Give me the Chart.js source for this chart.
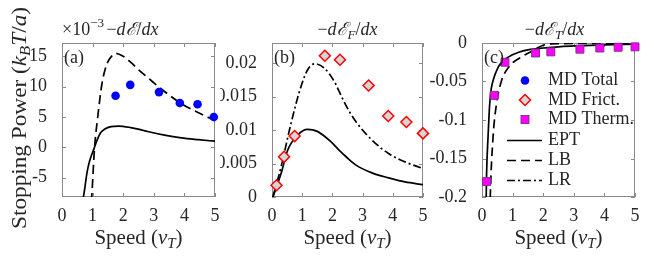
<!DOCTYPE html>
<html><head><meta charset="utf-8">
<script src="https://cdn.jsdelivr.net/npm/chart.js@4/dist/chart.umd.min.js"></script>
<style>
html,body{margin:0;padding:0;background:#fff}
body{width:654px;height:256px;position:relative;overflow:hidden}
canvas{position:absolute;top:0}
</style></head>
<body>
<canvas id="ca" width="220" height="256" style="left:0px"></canvas>
<canvas id="cb" width="210" height="256" style="left:220px"></canvas>
<canvas id="cc" width="224" height="256" style="left:430px"></canvas>
<script>
// ---------------- data ----------------
const speedTicks = [0, 1, 2, 3, 4, 5];
const aTicks = [-5, 0, 5, 10, 15];
const aTickLabels = ['-5', '0', '5', '10', '15'];
const bTicks = [0, 0.005, 0.01, 0.015, 0.02];
const bTickLabels = ['0', '0.005', '0.01', '0.015', '0.02'];
const cTicks = [-0.2, -0.15, -0.1, -0.05, 0];
const cTickLabels = ['-0.2', '-0.15', '-0.1', '-0.05', '0'];

// MD simulation points
const mdSpeed = [0.15, 0.4, 0.75, 1.75, 2.25, 3.2, 3.85, 4.45, 5.0];
const mdFrict = [0.00175, 0.006, 0.0091, 0.0211, 0.0205, 0.01665, 0.0121, 0.0112, 0.0095];
const mdTherm = [-0.18, -0.068, -0.025, -0.013, -0.0115, -0.008, -0.0065, -0.0055, -0.005];
const mdTotalSpeed = [1.75, 2.23, 3.17, 3.85, 4.43, 4.96];
const mdTotal = [8.5, 10.3, 9.1, 7.3, 7.1, 5.0];            // x 1e-3

// Panel (a) total, x 1e-3
const eptA_x = [0.66, 0.71, 0.82, 0.9, 1.04, 1.15, 1.26, 1.4, 1.6, 1.85, 2.25, 2.53, 2.8, 3.35, 3.9, 4.46, 5.0];
const eptA_y = [-9, -7.9, -4.1, -2.3, -0.3, 1.2, 2.4, 3.0, 3.4, 3.5, 3.25, 2.95, 2.6, 2.0, 1.55, 1.25, 1.0];
const lbA_x = [0.95, 0.97, 1.06, 1.17, 1.31, 1.48, 1.62, 1.75, 2.0, 2.25, 2.5, 2.8, 3.35, 3.9, 4.46, 5.0];
const lbA_y = [-9, -8.2, -0.3, 5.1, 10.6, 13.9, 15.0, 15.5, 15.0, 14.0, 12.8, 11.5, 9.2, 7.2, 5.7, 4.4];

// Panel (b) friction
const eptB_x = [0.03, 0.3, 0.52, 0.85, 1.18, 1.5, 1.94, 2.22, 2.48, 2.77, 3.31, 3.86, 4.4, 5.0];
const eptB_y = [0, 0.0035, 0.007, 0.00925, 0.0101, 0.0098, 0.0083, 0.0070, 0.0059, 0.0048, 0.0036, 0.00285, 0.00225, 0.00185];
const lrB_x = [0.03, 0.3, 0.63, 0.96, 1.18, 1.42, 1.72, 2.07, 2.22, 2.47, 2.77, 3.31, 3.86, 4.4, 5.0];
const lrB_y = [0, 0.0045, 0.011, 0.0165, 0.019, 0.0199, 0.0193, 0.0172, 0.0158, 0.0135, 0.0113, 0.0085, 0.0065, 0.00525, 0.00425];

// Panel (c) thermal
const eptC_x = [0.13, 0.15, 0.2, 0.25, 0.3, 0.39, 0.5, 0.58, 0.75, 0.96, 1.2, 1.5, 2.0, 2.5, 3.0, 4.0, 5.0];
const eptC_y = [-0.22, -0.17, -0.12, -0.08, -0.06, -0.045, -0.034, -0.028, -0.021, -0.016, -0.012, -0.009, -0.0065, -0.005, -0.0038, -0.0025, -0.0015];
const lbC_x = [0.26, 0.27, 0.36, 0.47, 0.63, 0.9, 1.23, 1.61, 2.0, 2.5, 5.0];
const lbC_y = [-0.22, -0.2, -0.123, -0.08, -0.05, -0.03, -0.0195, -0.011, -0.003, -0.0008, -0.0005];

const legendLabels = ['MD Total', 'MD Frict.', 'MD Therm.', 'EPT', 'LB', 'LR'];

// ---------------- styling / helpers ----------------
const FAM = "'Liberation Serif','DejaVu Serif',serif";
const fnt = (s, it) => (it ? 'italic ' : '') + s + 'px ' + FAM;
const TXT = '#262626';
const pts = (xs, ys) => xs.map((x, i) => ({x: x, y: ys[i]}));

function richWidth(ctx, parts) {
  let w = 0;
  parts.forEach(p => { ctx.font = fnt(p[1], p[2]); w += ctx.measureText(p[0]).width; });
  return w;
}
function rich(ctx, parts, x, y, align) {
  const w = richWidth(ctx, parts);
  let cx = align === 'center' ? x - w / 2 : (align === 'right' ? x - w : x);
  parts.forEach(p => { ctx.font = fnt(p[1], p[2]); ctx.fillText(p[0], cx, y + (p[3] || 0)); cx += ctx.measureText(p[0]).width; });
}

const STY = {
  total: {pointStyle: 'circle', pointRadius: 4.3, backgroundColor: '#0000ff', borderColor: '#0000ff', borderWidth: 0},
  frict: {pointStyle: 'rectRot', pointRadius: 5.5, backgroundColor: '#d6d6d6', borderColor: '#ff0000', borderWidth: 1.5},
  therm: {pointStyle: 'rect', pointRadius: 5.6, backgroundColor: '#ff00ff', borderColor: '#7e2f8e', borderWidth: 1},
  ept: {borderDash: []},
  lb: {borderDash: [9, 5]},
  lr: {borderDash: [8, 3, 2, 3]}
};
function scatterDs(data, s) {
  return Object.assign({data: data, showLine: false, clip: false}, s);
}
function lineDs(data, s) {
  return Object.assign({data: data, showLine: true, pointRadius: 0, borderColor: '#000', borderWidth: 1.7,
    backgroundColor: '#000', fill: false, cubicInterpolationMode: 'monotone', clip: 0}, s);
}

const framePlugin = {
  id: 'frame',
  beforeDatasetsDraw(chart) {
    const ctx = chart.ctx, a = chart.chartArea, xs = chart.scales.x, ys = chart.scales.y;
    ctx.save();
    ctx.strokeStyle = '#8a8a8a'; ctx.lineWidth = 1;
    ctx.beginPath();
    xs.ticks.forEach(t => { const p = Math.round(xs.getPixelForValue(t.value)) + 0.5;
      ctx.moveTo(p, a.bottom); ctx.lineTo(p, a.bottom - 4); ctx.moveTo(p, a.top); ctx.lineTo(p, a.top + 4); });
    ys.ticks.forEach(t => { const p = Math.round(ys.getPixelForValue(t.value)) + 0.5;
      ctx.moveTo(a.left, p); ctx.lineTo(a.left + 4, p); ctx.moveTo(a.right, p); ctx.lineTo(a.right - 4, p); });
    ctx.stroke();
    ctx.strokeRect(Math.round(a.left) + 0.5, Math.round(a.top) + 0.5, Math.round(a.right - a.left) - 1, Math.round(a.bottom - a.top) - 1);
    ctx.restore();
  },
  afterDraw(chart, args, opts) {
    const ctx = chart.ctx, a = chart.chartArea;
    ctx.save();
    ctx.fillStyle = TXT; ctx.textBaseline = 'alphabetic';
    const cx = (a.left + a.right) / 2;
    // x axis title
    rich(ctx, [['Speed (', 21, false], ['v', 21, true], ['T', 15, true, 4], [')', 21, false]], cx, 244, 'center');
    // panel title
    rich(ctx, opts.title, cx + (opts.titleShift || 0), 35, 'center');
    // panel letter
    ctx.textBaseline = 'middle';
    ctx.font = fnt(18, false); ctx.fillText(opts.letter, a.left + 2, 58);
    ctx.textBaseline = 'alphabetic';
    if (opts.extra) opts.extra(ctx, a);
    ctx.restore();
  }
};

function makeChart(id, datasets, yMin, yMax, yTicks, yLabels, yWidth, padRight, frameOpts) {
  return new Chart(document.getElementById(id), {
    type: 'scatter',
    data: {datasets: datasets},
    options: {
      responsive: false, animation: false, devicePixelRatio: 1,
      layout: {padding: {top: 43, right: padRight, left: 0, bottom: 0}},
      plugins: {legend: {display: false}, tooltip: {enabled: false}, frame: frameOpts},
      scales: {
        x: {type: 'linear', min: 0, max: 5, grid: {display: false}, border: {display: false},
          afterBuildTicks: s => { s.ticks = speedTicks.map(v => ({value: v})); },
          ticks: {font: {family: FAM, size: 18}, color: TXT, padding: 0, maxRotation: 0, autoSkip: false,
            callback: v => String(v)},
          afterFit: s => { s.height = 59; }},
        y: {type: 'linear', min: yMin, max: yMax, grid: {display: false}, border: {display: false},
          afterBuildTicks: s => { s.ticks = yTicks.map(v => ({value: v})); },
          ticks: {font: {family: FAM, size: 18}, color: TXT, padding: 7, autoSkip: false,
            callback: v => { const i = yTicks.findIndex(t => Math.abs(t - v) < 1e-9); return i >= 0 ? yLabels[i] : ''; }},
          afterFit: s => { s.width = yWidth; }}
      }
    },
    plugins: [framePlugin]
  });
}

// ---- panel (a)
makeChart('ca', [
  scatterDs(pts(mdTotalSpeed, mdTotal), STY.total),
  lineDs(pts(lbA_x, lbA_y), STY.lb),
  lineDs(pts(eptA_x, eptA_y), STY.ept)
], -8.2, 17.2, aTicks, aTickLabels, 62, 5, {
  letter: '(a)',
  title: [['−', 18, false], ['d', 18, true], ['ℰ', 18, true], ['/', 18, false], ['dx', 18, true]],
  titleShift: -6,
  extra: (ctx, a) => {
    rich(ctx, [['×10', 18, false], ['−3', 13, false, -8]], a.left, 35, 'left');
    ctx.save();
    const parts = [['Stopping Power (', 21, false], ['k', 21, true], ['B', 15, true, 4], ['T', 21, true], ['/', 21, false], ['a', 21, true], [')', 21, false]];
    const w = richWidth(ctx, parts);
    ctx.translate(26, 118); ctx.rotate(-Math.PI / 2); ctx.scale(222 / w, 1);
    rich(ctx, parts, 0, 0, 'center');
    ctx.restore();
  }
});

// ---- panel (b)
makeChart('cb', [
  scatterDs(pts(mdSpeed, mdFrict), STY.frict),
  lineDs(pts(lrB_x, lrB_y), STY.lr),
  lineDs(pts(eptB_x, eptB_y), STY.ept)
], 0, 0.023, bTicks, bTickLabels, 52, 5, {
  letter: '(b)',
  title: [['−', 18, false], ['d', 18, true], ['ℰ', 18, true], ['F', 13, true, 4], ['/', 18, false], ['dx', 18, true]]
});

// ---- panel (c)
makeChart('cc', [
  scatterDs(pts(mdSpeed, mdTherm), STY.therm),
  lineDs(pts(lbC_x, lbC_y), STY.lb),
  lineDs(pts(eptC_x, eptC_y), STY.ept)
], -0.2, 0, cTicks, cTickLabels, 52, 19, {
  letter: '(c)',
  titleShift: -4,
  title: [['−', 18, false], ['d', 18, true], ['ℰ', 18, true], ['T', 13, true, 4], ['/', 18, false], ['dx', 18, true]],
  extra: (ctx, a) => {
    const rows = [80.5, 100, 119.5, 140.5, 160.5, 180.5];
    const mx = 95, tx = 118, l0 = 77, l1 = 112;
    // markers
    ctx.save();
    ctx.fillStyle = STY.total.backgroundColor;
    ctx.beginPath(); ctx.arc(mx, rows[0], STY.total.pointRadius, 0, Math.PI * 2); ctx.fill();
    ctx.beginPath(); const r = STY.frict.pointRadius;
    ctx.moveTo(mx, rows[1] - r); ctx.lineTo(mx + r, rows[1]); ctx.lineTo(mx, rows[1] + r); ctx.lineTo(mx - r, rows[1]); ctx.closePath();
    ctx.fillStyle = STY.frict.backgroundColor; ctx.fill();
    ctx.lineWidth = STY.frict.borderWidth; ctx.strokeStyle = STY.frict.borderColor; ctx.stroke();
    const s = STY.therm.pointRadius * Math.SQRT1_2;
    ctx.fillStyle = STY.therm.backgroundColor; ctx.fillRect(mx - s, rows[2] - s, 2 * s, 2 * s);
    ctx.lineWidth = STY.therm.borderWidth; ctx.strokeStyle = STY.therm.borderColor; ctx.strokeRect(mx - s, rows[2] - s, 2 * s, 2 * s);
    // lines
    ctx.strokeStyle = '#000'; ctx.lineWidth = 1.7;
    [STY.ept, STY.lb, STY.lr].forEach((st, i) => {
      ctx.setLineDash(st.borderDash); ctx.beginPath(); ctx.moveTo(l0, rows[3 + i]); ctx.lineTo(l1, rows[3 + i]); ctx.stroke();
    });
    ctx.setLineDash([]);
    ctx.restore();
    ctx.fillStyle = TXT; ctx.textBaseline = 'middle'; ctx.font = fnt(18, false);
    legendLabels.forEach((t, i) => ctx.fillText(t, tx, rows[i]));
  }
});
</script>
</body></html>
